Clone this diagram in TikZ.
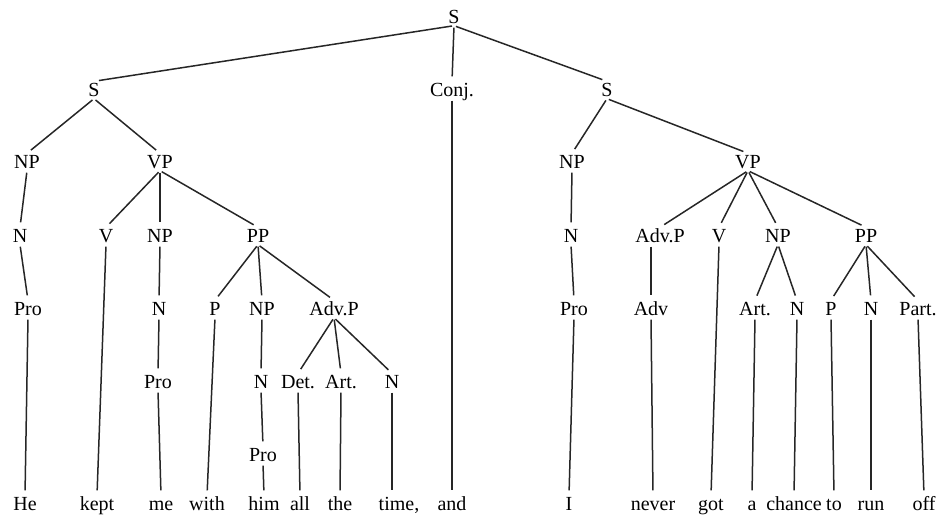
\documentclass[tikz,border=0pt]{standalone}
\usepackage{fontspec}
\setmainfont{Liberation Serif}
\begin{document}
\begin{tikzpicture}[x=1pt,y=-1pt,
  lab/.style={font=\fontsize{20}{24}\selectfont, text height=13pt, text depth=0pt, inner xsep=1pt, inner ysep=2pt},
  br/.style={line width=1.5pt, draw=black!85, shorten <=2pt, shorten >=5pt}]
\useasboundingbox (0,0) rectangle (939,520);
% row 1-3
\node[lab] (s0) at (454,17) {S};
\node[lab] (s1) at (94,90) {S};
\node[lab] (conj) at (452,90) {Conj.};
\node[lab] (s2) at (607,90) {S};
\node[lab] (np1) at (27,162) {NP};
\node[lab] (vp1) at (160,162) {VP};
\node[lab] (np2) at (572,162) {NP};
\node[lab] (vp2) at (748,162) {VP};
% row 4
\node[lab] (n1) at (20,236) {N};
\node[lab] (v1) at (106,236) {V};
\node[lab] (np3) at (160,236) {NP};
\node[lab] (pp1) at (258,236) {PP};
\node[lab] (n2) at (571,236) {N};
\node[lab] (advp2) at (660,236) {Adv.P};
\node[lab] (v2) at (719,236) {V};
\node[lab] (np4) at (778,236) {NP};
\node[lab] (pp2) at (866,236) {PP};
% row 5
\node[lab] (pro1) at (28,309) {Pro};
\node[lab] (n3) at (159,309) {N};
\node[lab] (p1) at (215,309) {P};
\node[lab] (np5) at (262,309) {NP};
\node[lab] (advp1) at (334,309) {Adv.P};
\node[lab] (pro2) at (574,309) {Pro};
\node[lab] (adv2) at (651,309) {Adv};
\node[lab] (art2) at (755,309) {Art.};
\node[lab] (n4) at (797,309) {N};
\node[lab] (p2) at (831,309) {P};
\node[lab] (n5) at (871,309) {N};
\node[lab] (part) at (918,309) {Part.};
% row 6
\node[lab] (pro3) at (158,382) {Pro};
\node[lab] (n6) at (261,382) {N};
\node[lab] (det) at (298,382) {Det.};
\node[lab] (art1) at (341,382) {Art.};
\node[lab] (n7) at (392,382) {N};
% row 7
\node[lab] (pro4) at (263,455) {Pro};
% words
\node[lab] (wHe) at (25,504) {He};
\node[lab] (wkept) at (97,504) {kept};
\node[lab] (wme) at (161,504) {me};
\node[lab] (wwith) at (207,504) {with};
\node[lab] (whim) at (264,504) {him};
\node[lab] (wall) at (300,504) {all};
\node[lab] (wthe) at (340,504) {the};
\node[lab] (wtime) at (399,504) {time,};
\node[lab] (wand) at (452,504) {and};
\node[lab] (wI) at (569,504) {I};
\node[lab] (wnever) at (653,504) {never};
\node[lab] (wgot) at (711,504) {got};
\node[lab] (wa) at (752,504) {a};
\node[lab] (wchance) at (794,504) {chance};
\node[lab] (wto) at (834,504) {to};
\node[lab] (wrun) at (871,504) {run};
\node[lab] (woff) at (924,504) {off};
% branches
\foreach \a/\b in {s0/s1, s0/conj, s0/s2,
  s1/np1, s1/vp1, s2/np2, s2/vp2,
  np1/n1, vp1/v1, vp1/np3, vp1/pp1,
  np2/n2, vp2/advp2, vp2/v2, vp2/np4, vp2/pp2,
  n1/pro1, np3/n3, pp1/p1, pp1/np5, pp1/advp1,
  n2/pro2, np4/art2, np4/n4, pp2/p2, pp2/n5, pp2/part,
  n3/pro3, np5/n6, advp1/det, advp1/art1, advp1/n7,
  n6/pro4,
  pro1/wHe, v1/wkept, pro3/wme, p1/wwith, pro4/whim, det/wall, art1/wthe,
  conj/wand, pro2/wI, adv2/wnever, v2/wgot, art2/wa, n4/wchance,
  p2/wto, n5/wrun, part/woff}
  \draw[br] (\a.south) -- (\b.north);
\draw[br] (advp2.south -| adv2) -- (adv2.north);
\draw[br] (n7.south) -- (wtime.north -| n7);
\end{tikzpicture}
\end{document}
